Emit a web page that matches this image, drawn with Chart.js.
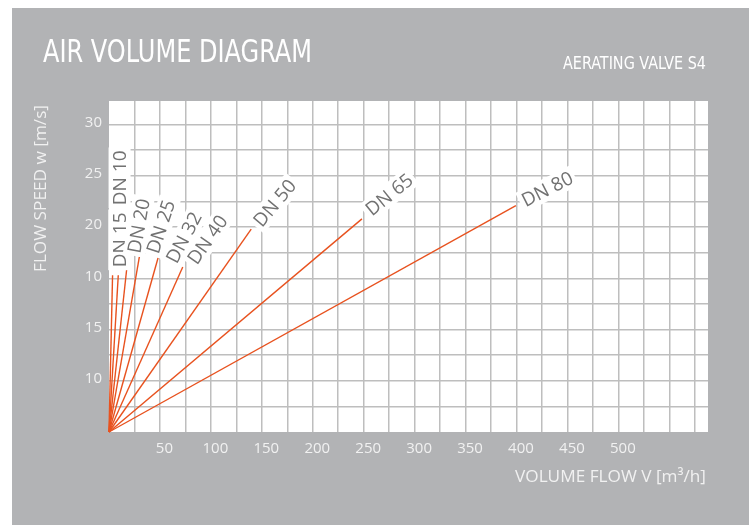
<!DOCTYPE html>
<html>
<head>
<meta charset="utf-8">
<script src="https://cdn.jsdelivr.net/npm/chart.js@4"></script>
<style>
  html, body { margin: 0; padding: 0; background: #fff; }
  canvas { display: block; }
</style>
</head>
<body>
<canvas id="airChart" width="749" height="525"></canvas>
<script>
// nominal sizes and end point of every line (flow m3/h, speed m/s)
const sizes = ['DN 10', 'DN 15', 'DN 20', 'DN 25', 'DN 32', 'DN 40', 'DN 50', 'DN 65', 'DN 80'];
const flowEnd = [3.5, 9.1, 18.7, 29.8, 48.2, 72.4, 139.6, 248.3, 399.4];
const speedEnd = [15.3, 15.3, 17.1, 17.1, 17.0, 16.1, 19.8, 20.8, 22.1];

// tick labels (as printed)
const xTickValues = [50, 100, 150, 200, 250, 300, 350, 400, 450, 500];
const xTickLabels = ['50', '100', '150', '200', '250', '300', '350', '400', '450', '500'];
const yTickValues = [5, 10, 15, 20, 25, 30];
const yTickLabels = ['10', '15', '10', '20', '25', '30'];

// label placement: offset from line end (px) and rotation (deg)
const labelPos = [
    [7, -70, -90], [1, -8, -90], [6, -4, -80], [13, -4, -72], [13, 4, -62],
    [9, -5, -55], [6, -5, -50], [6, -7, -39], [7, -4, -27]
];

const GREY = '#b2b3b5';
const LINE = '#e8521f';
const GRID = '#bebebe';
const TXT = '#f1f1f1';

function fitText(ctx, text, x, y, width) {
    const w = ctx.measureText(text).width;
    ctx.save();
    ctx.translate(x, y);
    ctx.scale(width / w, 1);
    ctx.fillText(text, 0, 0);
    ctx.restore();
}

const background = {
    id: 'background',
    beforeDraw(chart) {
        const ctx = chart.ctx;
        const a = chart.chartArea;
        ctx.save();
        ctx.fillStyle = GREY;
        ctx.fillRect(12, 8, chart.width - 12, chart.height - 8);
        ctx.fillStyle = '#fff';
        ctx.fillRect(a.left, a.top, a.right - a.left, a.bottom - a.top);
        ctx.restore();
    }
};

const lineLabels = {
    id: 'lineLabels',
    afterDatasetsDraw(chart) {
        const ctx = chart.ctx;
        const xs = chart.scales.x, ys = chart.scales.y;
        ctx.save();
        ctx.font = '19px "Open Sans"';
        ctx.textBaseline = 'middle';
        ctx.textAlign = 'left';
        sizes.forEach((s, i) => {
            const px = xs.getPixelForValue(flowEnd[i]) + labelPos[i][0];
            const py = ys.getPixelForValue(speedEnd[i]) + labelPos[i][1];
            const w = ctx.measureText(s).width;
            ctx.save();
            ctx.translate(px, py);
            ctx.rotate(labelPos[i][2] * Math.PI / 180);
            ctx.fillStyle = '#fff';
            ctx.fillRect(-3, -11, w + 6, 22);
            ctx.fillStyle = '#727272';
            ctx.fillText(s, 0, 1);
            ctx.restore();
        });
        ctx.restore();
    }
};

const titles = {
    id: 'titles',
    afterDraw(chart) {
        const ctx = chart.ctx;
        ctx.save();
        ctx.fillStyle = '#fff';
        ctx.textBaseline = 'alphabetic';
        ctx.font = '32px "Liberation Sans Narrow", "DejaVu Sans Condensed", "Open Sans"';
        fitText(ctx, 'AIR VOLUME DIAGRAM', 43, 62, 269);
        ctx.font = '17px "Liberation Sans Narrow", "DejaVu Sans Condensed", "Open Sans"';
        fitText(ctx, 'AERATING VALVE S4', 563, 69, 143);

        ctx.fillStyle = TXT;
        ctx.font = '17px "Open Sans"';
        ctx.textBaseline = 'middle';
        ctx.save();
        ctx.translate(41, 272);
        ctx.rotate(-Math.PI / 2);
        fitText(ctx, 'FLOW SPEED w [m/s]', 0, 0, 167);
        ctx.restore();
        fitText(ctx, 'VOLUME FLOW V [m³/h]', 515, 477, 191);
        ctx.restore();
    }
};

const gridColor = c => (c.tick && c.tick.value === 0) ? 'rgba(0,0,0,0)' : GRID;

new Chart(document.getElementById('airChart'), {
    type: 'line',
    data: {
        datasets: sizes.map((s, i) => ({
            label: s,
            data: [{ x: 0, y: 0 }, { x: flowEnd[i], y: speedEnd[i] }],
            borderColor: LINE,
            borderWidth: 1.4,
            pointRadius: 0,
            fill: false,
            clip: false
        }))
    },
    options: {
        responsive: false,
        animation: false,
        devicePixelRatio: 1,
        layout: { padding: { left: 0, top: 101, right: 41, bottom: 0 } },
        plugins: { legend: { display: false }, tooltip: { enabled: false } },
        scales: {
            x: {
                type: 'linear',
                min: 0,
                max: 588,
                afterFit: s => { s.height = 93; },
                border: { display: false },
                grid: { color: gridColor, lineWidth: 1.5, drawTicks: false },
                ticks: {
                    stepSize: 25,
                    includeBounds: false,
                    autoSkip: false,
                    maxRotation: 0,
                    padding: 8,
                    labelOffset: 4.5,
                    color: TXT,
                    font: { family: 'Open Sans', size: 15 },
                    callback: v => {
                        const k = xTickValues.indexOf(v);
                        return k >= 0 ? xTickLabels[k] : '';
                    }
                }
            },
            y: {
                type: 'linear',
                min: 0,
                max: 32.3,
                afterFit: s => { s.width = 109; },
                border: { display: false },
                grid: { color: gridColor, lineWidth: 1.5, drawTicks: false },
                ticks: {
                    stepSize: 2.5,
                    includeBounds: false,
                    autoSkip: false,
                    padding: 7,
                    labelOffset: -2,
                    color: TXT,
                    font: { family: 'Open Sans', size: 15 },
                    callback: v => {
                        const k = yTickValues.indexOf(v);
                        return k >= 0 ? yTickLabels[k] : '';
                    }
                }
            }
        }
    },
    plugins: [background, lineLabels, titles]
});
</script>
</body>
</html>
